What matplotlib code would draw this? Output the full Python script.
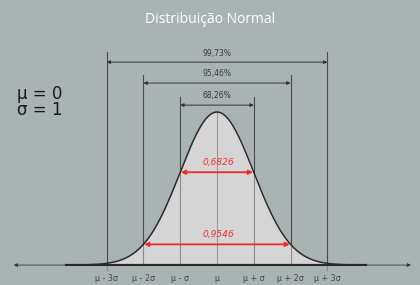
import numpy as np
import matplotlib.pyplot as plt
from matplotlib.patches import FancyArrowPatch

# === DATA ===
mu, sigma = 0, 1
levels = [1, 2, 3]
pct_labels = ["68,26%", "95,46%", "99,73%"]
prob_labels = ["0,6826", "0,9546"]
tick_labels = ["μ - 3σ", "μ - 2σ", "μ - σ", "μ", "μ + σ", "μ + 2σ", "μ + 3σ"]
tick_pos = [-3, -2, -1, 0, 1, 2, 3]

def pdf(z):
    return np.exp(-z ** 2 / 2) / np.sqrt(2 * np.pi)

BG = "#a9b3b3"
FILL = "#d5d5d5"

fig = plt.figure(figsize=(4.2, 2.85), dpi=100)
fig.patch.set_facecolor(BG)
ax = fig.add_axes([0, 0, 1, 1])
ax.set_facecolor(BG)
ax.set_xlim(-5.90, 5.52)
ax.set_ylim(-0.052, 0.691)
ax.axis("off")

# curve + fill
z = np.linspace(-4.1, 4.05, 400)
ax.fill_between(z, 0, pdf(z), color=FILL, zorder=1)
ax.plot(z, pdf(z), color="#2a2a2a", lw=1.1, zorder=4)

# axis line with arrows
ax.annotate("", xy=(5.35, 0), xytext=(-5.6, 0),
            arrowprops=dict(arrowstyle="<|-|>", color="#333333", lw=0.6,
                            mutation_scale=5), zorder=3)
ax.plot([-4.1, 4.05], [0, 0], color="#2a2a2a", lw=1.6, zorder=4)

# vertical lines
top = {1: 0.438, 2: 0.495, 3: 0.555}
bottom = {1: 0, 2: 0, 3: -0.013}
for k in levels:
    for s in (-1, 1):
        x = mu + s * k * sigma
        yc = pdf(x)
        ax.plot([x, x], [bottom[k], yc], color="#8c8c8c", lw=0.8, zorder=2)
        ax.plot([x, x], [yc, top[k]], color="#4a4a4a", lw=0.8, zorder=2)
ax.plot([0, 0], [0, pdf(0)], color="#9a9a9a", lw=0.8, zorder=2)

# percentage arrows
arrow_y = {1: 0.417, 2: 0.4745, 3: 0.529}
for k, lab in zip(levels, pct_labels):
    y = arrow_y[k]
    ax.add_patch(FancyArrowPatch((-k, y), (k, y), arrowstyle="<|-|>",
                                 mutation_scale=5, lw=0.7, color="#333333",
                                 shrinkA=0, shrinkB=0, zorder=3))
    ax.text(0, y + 0.012, lab, ha="center", va="bottom", fontsize=5.5,
            color="#3a3a3a")

# red probability arrows
for k, lab in zip([1, 2], prob_labels):
    y = pdf(k)
    ax.add_patch(FancyArrowPatch((-k + 0.02, y), (k - 0.02, y), arrowstyle="<|-|>",
                                 mutation_scale=6, lw=1.3, color="#ee2a2a",
                                 shrinkA=0, shrinkB=0, zorder=5))
    ax.text(0.05, y + 0.013, lab, ha="center", va="bottom", fontsize=6.5,
            color="#ee3333", style="italic", zorder=5)

# tick labels
for x, lab in zip(tick_pos, tick_labels):
    ax.text(x, -0.023, lab, ha="center", va="top", fontsize=5.8, color="#454545")

# title and parameters
ax.text(-0.19, 0.64, "Distribuição Normal", ha="center", va="center",
        fontsize=10, color="white", family="Open Sans")
ax.text(-5.45, 0.447, "μ = 0", ha="left", va="center", fontsize=12,
        color="#1a1a1a")
ax.text(-5.45, 0.404, "σ = 1", ha="left", va="center", fontsize=12,
        color="#1a1a1a")

fig.savefig("out.png", dpi=100, facecolor=BG)
